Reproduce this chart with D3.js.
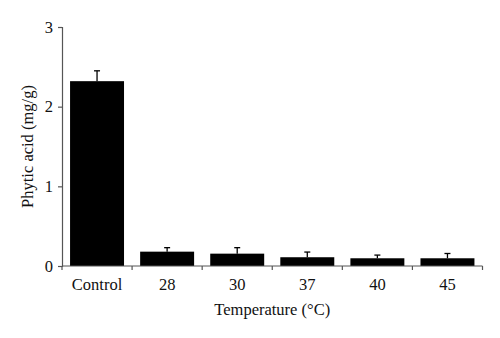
<!DOCTYPE html>
<html>
<head>
<meta charset="utf-8">
<script src="https://cdn.jsdelivr.net/npm/d3@7"></script>
<style>
  html, body { margin: 0; padding: 0; background: #fff; }
  svg text { font-family: "Liberation Serif", "DejaVu Serif", serif; fill: #111; }
</style>
</head>
<body>
<svg id="chart" width="500" height="338"></svg>
<script>
// Phytic acid content by fermentation temperature
const categories = ["Control", "28", "30", "37", "40", "45"];
const values = [2.32, 0.18, 0.155, 0.11, 0.097, 0.097];
const errors = [0.13, 0.05, 0.075, 0.065, 0.04, 0.06];
const yTicks = [0, 1, 2, 3];

const svg = d3.select("#chart");
const margin = { left: 62, right: 17.5, top: 27, bottom: 72 };
const W = 500, H = 338;
const fs = 16.5;

const x = d3.scaleBand()
  .domain(categories)
  .range([margin.left, W - margin.right])
  .paddingInner(0.23)
  .paddingOuter(0.115);

const y = d3.scaleLinear()
  .domain([0, 3])
  .range([H - margin.bottom, margin.top]);

const axisColor = "#555";

// bars
svg.append("g").selectAll("rect")
  .data(categories)
  .join("rect")
  .attr("x", d => x(d))
  .attr("width", x.bandwidth())
  .attr("y", (d, i) => y(values[i]))
  .attr("height", (d, i) => y(0) - y(values[i]))
  .attr("fill", "#000");

// upper error bars
const eg = svg.append("g").attr("stroke", "#000").attr("stroke-width", 1.3);
categories.forEach((c, i) => {
  const cx = x(c) + x.bandwidth() / 2;
  eg.append("line")
    .attr("x1", cx).attr("x2", cx)
    .attr("y1", y(values[i])).attr("y2", y(values[i] + errors[i]));
  eg.append("line")
    .attr("x1", cx - 3).attr("x2", cx + 3)
    .attr("y1", y(values[i] + errors[i])).attr("y2", y(values[i] + errors[i]));
});

// y axis
const yAxis = svg.append("g")
  .attr("transform", `translate(${margin.left},0)`)
  .call(d3.axisLeft(y).tickValues(yTicks).tickFormat(d3.format("d")).tickSize(4).tickPadding(5));
yAxis.select(".domain").attr("stroke", axisColor).attr("stroke-width", 1.2);
yAxis.selectAll(".tick line").attr("stroke", axisColor).attr("stroke-width", 1.2);
yAxis.selectAll(".tick text").attr("font-size", fs).style("font-family", "Liberation Serif, serif");

// x axis: ticks at band boundaries
const xg = svg.append("g").attr("transform", `translate(0,${y(0)})`);
xg.append("line")
  .attr("x1", margin.left).attr("x2", W - margin.right)
  .attr("stroke", axisColor).attr("stroke-width", 1.2);
const step = x.step();
const bounds = d3.range(categories.length + 1).map(i => margin.left + i * step);
xg.selectAll("line.tk").data(bounds).join("line")
  .attr("class", "tk")
  .attr("x1", d => d).attr("x2", d => d)
  .attr("y1", 0).attr("y2", 4)
  .attr("stroke", axisColor).attr("stroke-width", 1.2);
xg.selectAll("text").data(categories).join("text")
  .attr("x", d => x(d) + x.bandwidth() / 2)
  .attr("y", 24)
  .attr("text-anchor", "middle")
  .attr("font-size", fs)
  .text(d => d);

// axis titles
svg.append("text")
  .attr("x", (margin.left + W - margin.right) / 2)
  .attr("y", 315)
  .attr("text-anchor", "middle")
  .attr("font-size", fs)
  .text("Temperature (°C)");

svg.append("text")
  .attr("transform", `translate(33,${(margin.top + H - margin.bottom) / 2}) rotate(-90)`)
  .attr("text-anchor", "middle")
  .attr("font-size", fs)
  .text("Phytic acid (mg/g)");
</script>
</body>
</html>
